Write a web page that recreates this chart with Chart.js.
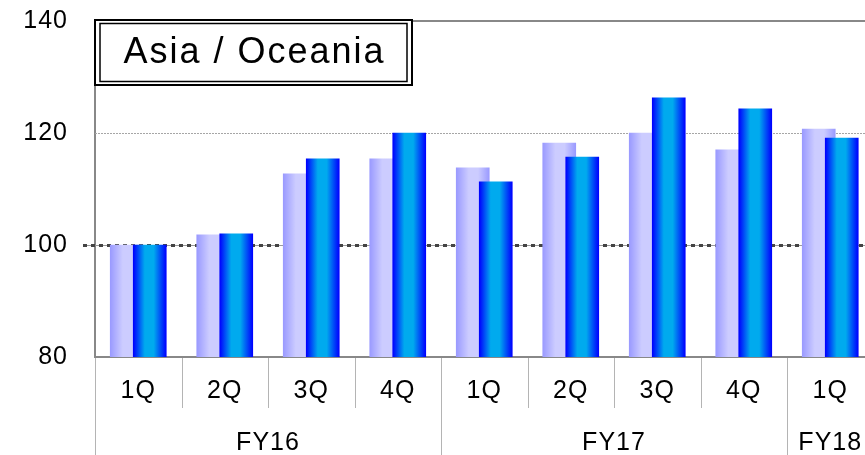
<!DOCTYPE html>
<html>
<head>
<meta charset="utf-8">
<script src="https://cdn.jsdelivr.net/npm/chart.js@4/dist/chart.umd.min.js"></script>
<style>
  html, body { margin: 0; padding: 0; background: #fff; overflow: hidden; }
  #wrap { width: 880px; height: 455px; position: relative; }
</style>
</head>
<body>
<div id="wrap"><canvas id="chart"></canvas></div>
<script>
const quarters = ['1Q', '2Q', '3Q', '4Q', '1Q', '2Q', '3Q', '4Q', '1Q']
const fiscalYears = ['FY16', 'FY17', 'FY18']
const quartersPerYear = [4, 4, 1]
const seriesLight = [100, 101.8, 112.7, 115.4, 113.8, 118.2, 120, 117, 120.7]
const seriesDark = [100, 102, 115.4, 120, 111.3, 115.7, 126.3, 124.3, 119.1]
const yTicks = [80, 100, 120, 140]
const title = 'Asia / Oceania'

const FONT = 'Liberation Sans, Arial, sans-serif'
const BAR_W = 33
const SHIFT = 0.133

// horizontal gradient across each bar, built from the bar's own x pixel
function barFill(stops) {
  return (ctx) => {
    const sc = ctx.chart.scales.xb
    if (!sc || !ctx.raw) return stops[1][1]
    const cx = sc.getPixelForValue(ctx.raw.x)
    if (!isFinite(cx)) return stops[1][1]
    const g = ctx.chart.ctx.createLinearGradient(cx - BAR_W / 2, 0, cx + BAR_W / 2, 0)
    stops.forEach(([o, c]) => g.addColorStop(o, c))
    return g
  }
}

const refLines = {
  id: 'refLines',
  beforeDraw(chart) {
    chart.ctx.letterSpacing = '1px'
  },
  beforeDatasetsDraw(chart) {
    const { ctx, chartArea: a, scales: { y } } = chart
    ctx.save()
    // top border at 140
    let py = y.getPixelForValue(yTicks[3])
    ctx.strokeStyle = '#888'
    ctx.lineWidth = 2
    ctx.beginPath(); ctx.moveTo(a.left, py); ctx.lineTo(a.right, py); ctx.stroke()
    // light dotted grid at 120
    py = Math.round(y.getPixelForValue(yTicks[2])) + 0.5
    ctx.strokeStyle = '#a6a6a6'
    ctx.lineWidth = 1
    ctx.setLineDash([2, 1])
    ctx.beginPath(); ctx.moveTo(a.left, py); ctx.lineTo(a.right, py); ctx.stroke()
    // baseline 100: thin grey line with dark square dots
    py = Math.round(y.getPixelForValue(yTicks[1]))
    ctx.setLineDash([])
    ctx.strokeStyle = '#999'
    ctx.beginPath(); ctx.moveTo(a.left - 12, py + 0.5); ctx.lineTo(a.right, py + 0.5); ctx.stroke()
    ctx.strokeStyle = '#444'
    ctx.lineWidth = 3
    ctx.setLineDash([4, 4])
    ctx.beginPath(); ctx.moveTo(a.left - 12, py + 0.5); ctx.lineTo(a.right, py + 0.5); ctx.stroke()
    ctx.restore()
  }
}

const groupAxis = {
  id: 'groupAxis',
  afterDraw(chart) {
    const { ctx, chartArea: a, scales: { xb } } = chart
    const h = chart.height
    const starts = [0]
    quartersPerYear.forEach((n, i) => starts.push(starts[i] + n))
    ctx.save()
    ctx.strokeStyle = '#b4b4b4'
    ctx.lineWidth = 1
    for (let b = 0; b <= quarters.length; b++) {
      const px = Math.round(xb.getPixelForValue(b - 0.5)) + 0.5
      const full = starts.includes(b)
      ctx.beginPath()
      ctx.moveTo(px, a.bottom + 1)
      ctx.lineTo(px, full ? h : a.bottom + 51)
      ctx.stroke()
    }
    ctx.fillStyle = '#000'
    ctx.font = '25px ' + FONT
    ctx.letterSpacing = '1px'
    ctx.textAlign = 'center'
    ctx.textBaseline = 'middle'
    fiscalYears.forEach((fy, i) => {
      const c = (xb.getPixelForValue(starts[i] - 0.5) + xb.getPixelForValue(starts[i + 1] - 0.5)) / 2
      ctx.fillText(fy, c, a.bottom + 86)
    })

    // title box with double frame
    const bx = a.left - 1, by = 19, bw = 319, bh = 67
    ctx.fillStyle = '#fff'
    ctx.fillRect(bx, by, bw, bh)
    ctx.strokeStyle = '#000'
    ctx.lineWidth = 2
    ctx.strokeRect(bx + 1, by + 1, bw - 2, bh - 2)
    ctx.lineWidth = 1.5
    ctx.strokeRect(bx + 6, by + 4.5, bw - 12, bh - 9)
    ctx.fillStyle = '#000'
    ctx.font = '36px ' + FONT
    ctx.letterSpacing = '2px'
    ctx.fillText(title, bx + bw / 2 + 1, by + bh / 2 + 1)
    ctx.restore()
  }
}

new Chart(document.getElementById('chart'), {
  type: 'bar',
  data: {
    labels: quarters,
    datasets: [
      {
        label: 'dark',
        xAxisID: 'xb',
        data: seriesDark.map((v, i) => ({ x: i + SHIFT, y: v })),
        backgroundColor: barFill([[0, '#0000ff'], [0.35, '#00aaee'], [0.62, '#00aaee'], [1, '#0000ff']]),
        barThickness: BAR_W,
        grouped: false,
        order: 0
      },
      {
        label: 'light',
        xAxisID: 'xb',
        data: seriesLight.map((v, i) => ({ x: i - SHIFT, y: v })),
        backgroundColor: barFill([[0, '#9a9aff'], [0.38, '#ccccff'], [0.66, '#ccccff'], [1, '#9a9aff']]),
        barThickness: BAR_W,
        grouped: false,
        order: 1
      }
    ]
  },
  options: {
    responsive: true,
    maintainAspectRatio: false,
    animation: false,
    layout: { padding: { top: 21, right: 6.5, left: 0, bottom: 0 } },
    plugins: { legend: { display: false }, tooltip: { enabled: false } },
    scales: {
      xb: { type: 'linear', offset: false, min: -0.5, max: quarters.length - 0.5, display: false },
      x: {
        type: 'category',
        offset: true,
        grid: { display: false, drawTicks: false },
        border: { color: '#888', width: 2 },
        ticks: { color: '#000', font: { family: FONT, size: 25 }, padding: 19, maxRotation: 0, autoSkip: false },
        afterFit: (s) => { s.height = 98 }
      },
      y: {
        min: yTicks[0],
        max: yTicks[yTicks.length - 1],
        afterBuildTicks: (s) => { s.ticks = yTicks.map(v => ({ value: v })) },
        grid: { display: false, drawTicks: false },
        border: { color: '#888', width: 2 },
        ticks: { color: '#000', font: { family: FONT, size: 25 }, padding: 27 },
        afterFit: (s) => { s.width = 95; s.paddingTop = 0; s.paddingBottom = 0 }
      }
    }
  },
  plugins: [refLines, groupAxis]
})
</script>
</body>
</html>
